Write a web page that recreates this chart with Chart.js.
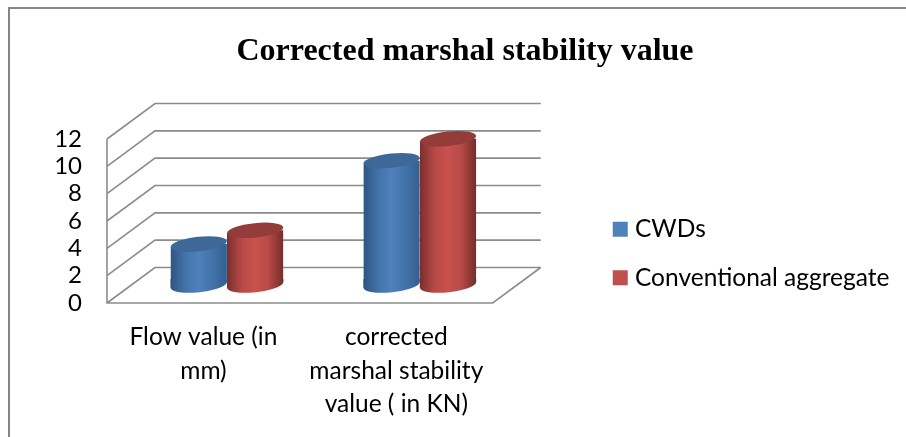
<!DOCTYPE html>
<html><head><meta charset="utf-8">
<script src="https://cdn.jsdelivr.net/npm/chart.js@4"></script>
<style>html,body{margin:0;padding:0;background:#fff;overflow:hidden}
#f{position:absolute;left:8px;top:7px;width:920px;height:440px;border:2px solid #868686;box-sizing:border-box}
canvas{position:absolute;left:0;top:0}</style></head>
<body><div id="f"></div><canvas id="c" width="906" height="437"></canvas>
<script>
const chartTitle = 'Corrected marshal stability value';
const categories = [['Flow value (in','mm)'],['corrected','marshal stability','value ( in KN)']];
const cwds = [3, 9.1];
const conventional = [4, 10.7];
const seriesNames = ['CWDs','Conventional aggregate'];
const seriesColors = ['#4F81BD','#C0504D'];
const gradStops = [['#2F5580','#4373AA','#4F81BD','#4373AA','#34608F'],['#7A2F2D','#B84A47','#C9514E','#B84A47','#752D2B']];
const capColors = ['#3D6897','#943C3A'];
const DX=23.5, DY=-18, BX=48, BY=-35.5, TILT=-0.105, RY=7.2;

function grad(c,x0,x1,i){
  const g=c.createLinearGradient(x0,0,x1,0);
  const s=gradStops[i];
  g.addColorStop(0,s[0]);g.addColorStop(0.27,s[1]);g.addColorStop(0.5,s[2]);g.addColorStop(0.73,s[3]);g.addColorStop(1,s[4]);
  return g;
}
function fill(i){
  return ctx=>{
    if(ctx.type!=='data') return seriesColors[i];
    const x=ctx.chart.scales.x; if(!x) return seriesColors[i];
    const band=x.width/categories.length*0.585/2;
    const cx=x.getPixelForTick(ctx.dataIndex)+(i===0?-band/2:band/2);
    if(!Number.isFinite(cx)||!Number.isFinite(band)) return seriesColors[i];
    return grad(ctx.chart.ctx,cx-band/2,cx+band/2,i);
  };
}
const scene={
  id:'scene',
  afterLayout(chart){
    const a=chart.chartArea;
    chart.titleBlock.left=24; chart.titleBlock.right=906;
    chart.legend.left=a.right+101; chart.legend.right=906; chart.legend.top=193;
  },
  beforeDatasetsDraw(chart){
    const c=chart.ctx,y=chart.scales.y,a=chart.chartArea;
    c.save();c.strokeStyle='#8C8C8C';c.lineWidth=1.6;c.beginPath();
    y.ticks.forEach(t=>{
      const p=y.getPixelForValue(t.value);
      c.moveTo(a.left,p);c.lineTo(a.left+BX,p+BY);c.lineTo(a.right+BX,p+BY);
    });
    c.moveTo(a.left,a.top);c.lineTo(a.left,a.bottom);c.lineTo(a.right,a.bottom);c.lineTo(a.right+BX,a.bottom+BY);
    c.stroke();c.restore();
  },
  beforeDatasetDraw(chart,args){
    const c=chart.ctx;c.save();c.translate(DX,DY);
    const tilt=Math.tan(-TILT);
    c.beginPath();
    args.meta.data.forEach(el=>{
      const p=el.getProps(['x','y','base','width'],true),h=p.width/2;
      c.moveTo(p.x-h,p.y+h*tilt);c.lineTo(p.x+h,p.y-h*tilt);c.lineTo(p.x+h,p.base-h*tilt);c.lineTo(p.x-h,p.base+h*tilt);c.closePath();
    });
    c.clip();
  },
  afterDatasetDraw(chart,args){
    const c=chart.ctx,i=args.index;c.restore();c.save();c.translate(DX,DY);
    const tilt=Math.tan(-TILT);
    args.meta.data.forEach(el=>{
      const p=el.getProps(['x','y','base','width'],true),h=p.width/2;
      c.fillStyle=grad(c,p.x-h,p.x+h,i);
      c.beginPath();c.moveTo(p.x-h,p.base-6);c.lineTo(p.x+h,p.base-6);c.lineTo(p.x+h,p.base-h*tilt);c.lineTo(p.x-h,p.base+h*tilt);c.closePath();c.fill();
      c.beginPath();c.ellipse(p.x,p.base,h,RY,TILT,0,Math.PI*2);c.fill();
      c.fillStyle=capColors[i];
      c.beginPath();c.ellipse(p.x,p.y,h,RY,TILT,0,Math.PI*2);c.fill();
    });
    c.restore();
  }
};
new Chart(document.getElementById('c'),{
  type:'bar',
  data:{labels:categories,datasets:[
    {label:seriesNames[0],data:cwds,backgroundColor:fill(0),borderWidth:0,clip:false},
    {label:seriesNames[1],data:conventional,backgroundColor:fill(1),borderWidth:0,clip:false}
  ]},
  plugins:[scene],
  options:{
    responsive:false,animation:false,events:[],
    categoryPercentage:0.585,barPercentage:1,
    layout:{padding:{left:0,right:249,top:0,bottom:0}},
    plugins:{
      tooltip:{enabled:false},
      title:{display:true,text:chartTitle,color:'#000',
        font:{family:'"Liberation Serif"',size:32,weight:'bold',lineHeight:1.2},
        padding:{top:32.5,bottom:68.1}},
      legend:{position:'right',align:'start',
        labels:{color:'#000',font:{family:'Lato',size:24.5},boxWidth:5,boxHeight:5,padding:24,
          generateLabels(chart){
            return Chart.defaults.plugins.legend.labels.generateLabels(chart).map((l,i)=>
              ({...l,fillStyle:seriesColors[i],strokeStyle:seriesColors[i],lineWidth:10}));
          }}}
    },
    scales:{
      x:{grid:{display:false,drawTicks:false},border:{display:false},
        afterFit(s){s.height=134;},
        ticks:{color:'#000',font:{family:'Lato',size:24.5,lineHeight:1.35},padding:18,maxRotation:0,autoSkip:false}},
      y:{min:0,max:12,grid:{display:false,drawTicks:false},border:{display:false},
        afterFit(s){s.width=107;},
        ticks:{stepSize:2,autoSkip:false,color:'#000',font:{family:'Lato',size:24},padding:25}}
    }
  }
});
</script></body></html>
